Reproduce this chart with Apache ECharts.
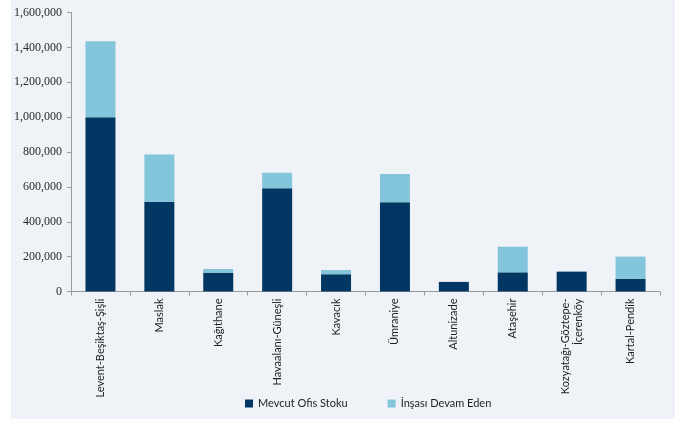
<!DOCTYPE html>
<html>
<head>
<meta charset="utf-8">
<script src="https://cdn.jsdelivr.net/npm/echarts@6/dist/echarts.min.js"></script>
<style>
  html, body { margin: 0; padding: 0; background: #ffffff; }
  #chart { width: 675px; height: 421px; }
</style>
</head>
<body>
<div id="chart"></div>
<script>
// Office stock by sub-market (m²)
const categories = [
  'Levent-Beşiktaş-Şişli', 'Maslak', 'Kağıthane', 'Havaalanı-Güneşli', 'Kavacık',
  'Ümraniye', 'Altunizade', 'Ataşehir', 'Kozyatağı-Göztepe-\nİçerenköy', 'Kartal-Pendik'
];
const existingStock = [1000000, 515000, 108000, 592000, 99000, 512000, 55000, 110000, 114000, 73000];
const underConstruction = [435000, 270000, 21000, 89000, 24000, 162000, 0, 147000, 0, 127000];
const seriesNames = ['Mevcut Ofis Stoku', 'İnşası Devam Eden'];

const fontFamily = 'Lato, "Open Sans", "DejaVu Sans", sans-serif';
const numberFont = '"Liberation Serif", "DejaVu Serif", serif';
const textColor = '#1f1f1f';

const chart = echarts.init(document.getElementById('chart'), null, { renderer: 'canvas' });

chart.setOption({
  backgroundColor: '#ffffff',
  animation: false,
  textStyle: { fontFamily: fontFamily, color: textColor },
  graphic: [{
    type: 'rect',
    silent: true,
    z: -10,
    shape: { x: 11, y: 0, width: 664, height: 419 },
    style: { fill: '#eff3f7' }
  }],
  grid: { left: 71, right: 15, top: 12.5, bottom: 129.5 },
  legend: {
    bottom: 7,
    left: 240,
    itemWidth: 8,
    itemHeight: 8,
    itemGap: 40,
    icon: 'rect',
    textStyle: { fontSize: 11, color: textColor, fontFamily: fontFamily },
    data: seriesNames
  },
  xAxis: {
    type: 'category',
    data: categories,
    axisLine: { lineStyle: { color: '#9a9a9a', width: 1 } },
    axisTick: { show: true, alignWithLabel: false, length: 4, lineStyle: { color: '#9a9a9a' } },
    axisLabel: {
      rotate: 90,
      interval: 0,
      fontSize: 11,
      color: textColor,
      margin: 7,
      align: 'right',
      lineHeight: 13,
      fontFamily: fontFamily
    }
  },
  yAxis: {
    type: 'value',
    min: 0,
    max: 1600000,
    interval: 200000,
    splitLine: { show: false },
    axisLine: { show: true, lineStyle: { color: '#9a9a9a', width: 1 } },
    axisTick: { show: true, length: 4, lineStyle: { color: '#9a9a9a' } },
    axisLabel: {
      fontSize: 12,
      color: '#2a2a2a',
      margin: 9,
      fontFamily: numberFont,
      formatter: v => v.toLocaleString('en-US')
    }
  },
  series: [
    {
      name: seriesNames[0],
      type: 'bar',
      stack: 'total',
      barWidth: 30,
      itemStyle: { color: '#023764' },
      data: existingStock
    },
    {
      name: seriesNames[1],
      type: 'bar',
      stack: 'total',
      barWidth: 30,
      itemStyle: { color: '#83c5da' },
      data: underConstruction
    }
  ]
});
</script>
</body>
</html>
